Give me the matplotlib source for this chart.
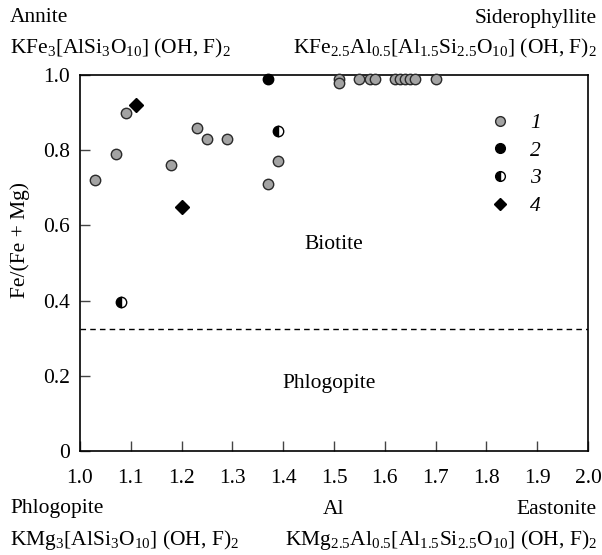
import matplotlib
matplotlib.use("Agg")
import matplotlib.pyplot as plt
from matplotlib.lines import Line2D

plt.rcParams['font.family'] = ['Liberation Serif', 'DejaVu Serif']
plt.rcParams['mathtext.default'] = 'regular'

# Al (apfu) vs Fe/(Fe+Mg)
al_1 = [1.03, 1.07, 1.09, 1.18, 1.23, 1.25, 1.29, 1.37, 1.39,
        1.51, 1.51, 1.55, 1.57, 1.58, 1.62, 1.63, 1.64, 1.65, 1.66, 1.70]
fe_1 = [0.72, 0.79, 0.90, 0.76, 0.86, 0.83, 0.83, 0.71, 0.77,
        0.99, 0.98, 0.99, 0.99, 0.99, 0.99, 0.99, 0.99, 0.99, 0.99, 0.99]
al_2 = [1.37]
fe_2 = [0.99]
al_3 = [1.08, 1.39]
fe_3 = [0.395, 0.85]
al_4 = [1.11, 1.20]
fe_4 = [0.92, 0.65]

boundary = 0.325
xticks = [1.0, 1.1, 1.2, 1.3, 1.4, 1.5, 1.6, 1.7, 1.8, 1.9, 2.0]
yticks = [0, 0.2, 0.4, 0.6, 0.8, 1.0]
ytick_labels = ['0', '0.2', '0.4', '0.6', '0.8', '1.0']

W, H = 602, 555
fig = plt.figure(figsize=(W / 100, H / 100), dpi=100)
ax = fig.add_axes([80 / W, 1 - 451 / H, (588 - 80) / W, (451 - 75) / H])

FS = 15.5
ms = 7.5
ax.plot(al_1, fe_1, 'o', ms=ms, mfc='#a3a3a3', mec='#2a2a2a', mew=1.0, clip_on=False, zorder=3)
ax.plot(al_2, fe_2, 'o', ms=ms, mfc='black', mec='black', mew=1.0, clip_on=False, zorder=3)
ax.plot(al_3, fe_3, 'o', ms=ms, fillstyle='left', mfc='black', mfcalt='white',
        mec='black', mew=1.0, clip_on=False, zorder=3)
ax.plot(al_4, fe_4, 'D', ms=7, mfc='black', mec='black', clip_on=False, zorder=3)

ax.axhline(boundary, color='black', lw=1.0, ls=(0, (4, 3)))

ax.set_xlim(1.0, 2.0)
ax.set_ylim(0, 1.0)
ax.set_xticks(xticks)
ax.set_xticklabels([f'{t:.1f}' for t in xticks])
ax.set_yticks(yticks)
ax.set_yticklabels(ytick_labels)
ax.tick_params(direction='in', length=7, width=1.0, labelsize=FS, color='#444444')
ax.tick_params(axis='x', pad=13)
ax.tick_params(axis='y', pad=7)
for s in ax.spines.values():
    s.set_linewidth(1.2)

ax.text(1.5, 0.55, 'Biotite', fontsize=FS, ha='center', va='center')
ax.text(1.49, 0.18, 'Phlogopite', fontsize=FS, ha='center', va='center')

handles = [
    Line2D([], [], ls='', marker='o', ms=7, mfc='#a3a3a3', mec='#2a2a2a'),
    Line2D([], [], ls='', marker='o', ms=7, mfc='black', mec='black'),
    Line2D([], [], ls='', marker='o', ms=7, fillstyle='left', mfc='black',
           mfcalt='white', mec='black'),
    Line2D([], [], ls='', marker='D', ms=6, mfc='black', mec='black'),
]
ax.legend(handles, ['1', '2', '3', '4'], loc='upper left',
          bbox_to_anchor=(0.768, 0.95), frameon=False, handlelength=1.0,
          handletextpad=0.9, labelspacing=0.35,
          prop={'style': 'italic', 'size': FS})


def ftext(x, y, s, ha='left', rot=0):
    fig.text(x / W, 1 - y / H, s, fontsize=FS, ha=ha, va='center', rotation=rot)


ftext(20, 240, 'Fe/(Fe + Mg)', ha='center', rot=90)
ftext(10, 18, 'Annite')
ftext(10, 48, r'KFe$_3$[AlSi$_3$O$_{10}$] (OH, F)$_2$')
ftext(597, 18, 'Siderophyllite', ha='right')
ftext(597, 48, r'KFe$_{2.5}$Al$_{0.5}$[Al$_{1.5}$Si$_{2.5}$O$_{10}$] (OH, F)$_2$', ha='right')
ftext(10, 509, 'Phlogopite')
ftext(334, 509, 'Al', ha='center')
ftext(597, 509, 'Eastonite', ha='right')
ftext(10, 540, r'KMg$_3$[AlSi$_3$O$_{10}$] (OH, F)$_2$')
ftext(597, 540, r'KMg$_{2.5}$Al$_{0.5}$[Al$_{1.5}$Si$_{2.5}$O$_{10}$] (OH, F)$_2$', ha='right')

fig.savefig('out.png', dpi=100)
